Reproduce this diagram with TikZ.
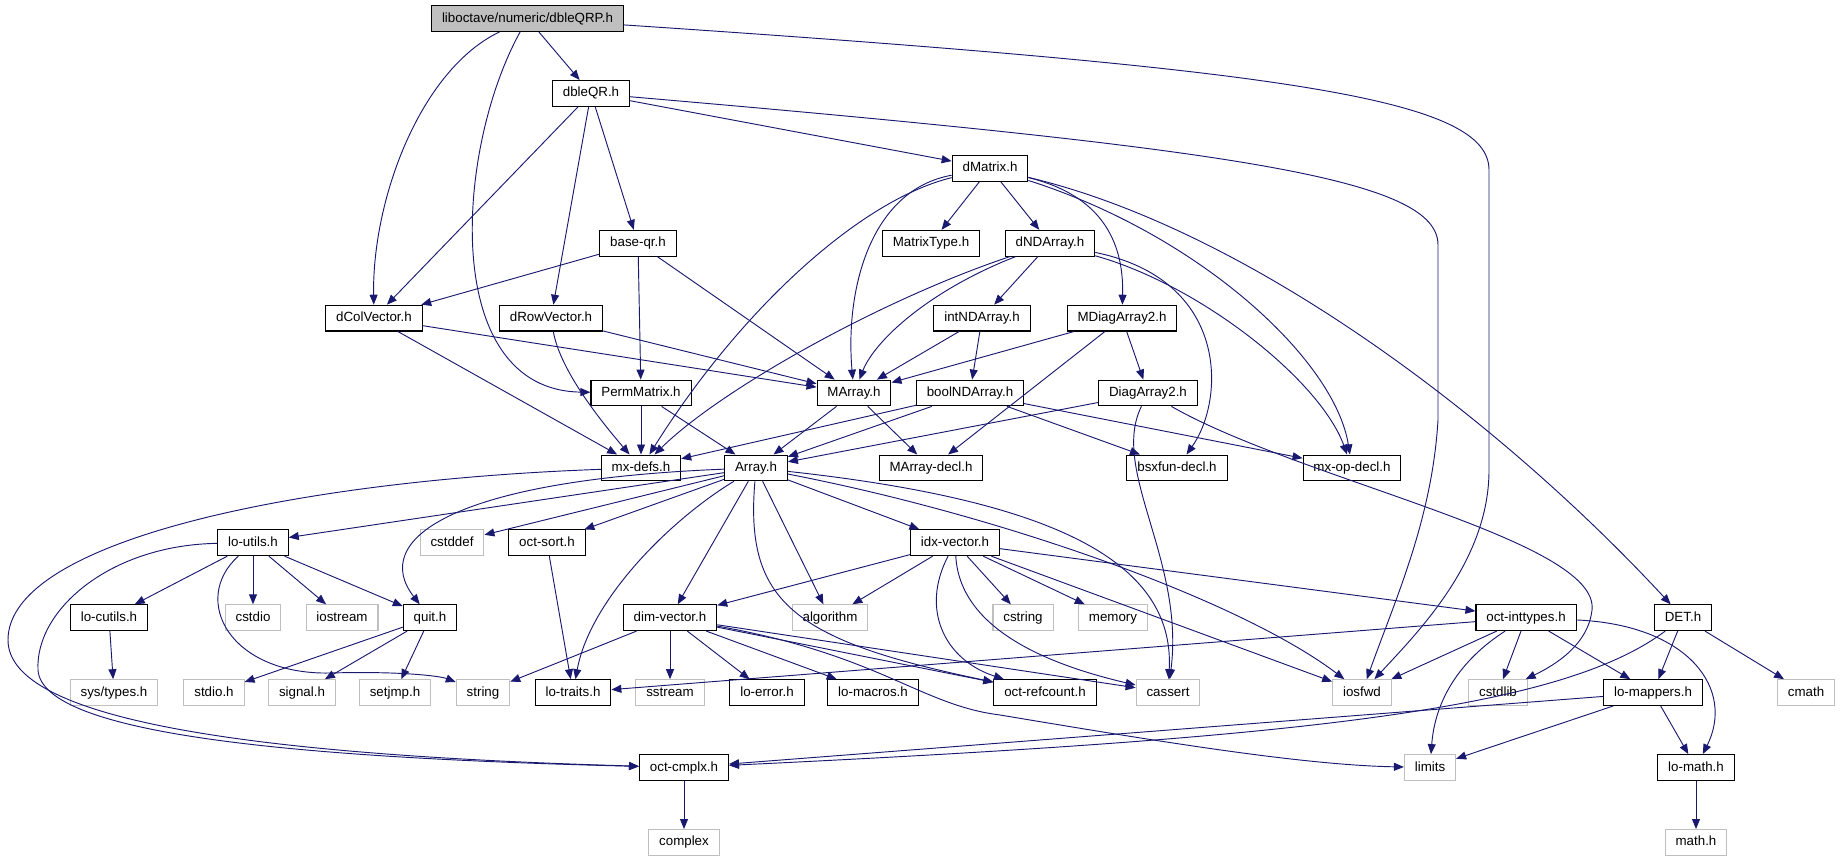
\documentclass[tikz,border=0pt]{standalone}
\usepackage{fontspec}
\setmainfont{Liberation Sans}
\usetikzlibrary{arrows.meta}
\definecolor{depblue}{HTML}{191970}
\definecolor{boxgray}{HTML}{BFBFBF}

\begin{document}
\begin{tikzpicture}[x=0.75pt, y=-0.75pt, font=\fontsize{10}{12}\selectfont,
	main/.style = {draw=black, line width=0.8pt, rectangle, minimum height=19.3pt, inner xsep=7.8pt, inner ysep=0pt, text height=7.3pt, text depth=2pt},
	ext/.style = {main, draw=boxgray},
	rootbox/.style = {main, fill=boxgray},
	dep/.style = {draw=depblue, line width=0.7pt, -{Triangle[length=7.5pt, width=6pt]}}]
	\useasboundingbox (0,0) rectangle (1841,859);
	\node[rootbox] (T) at (527.5,18.5) {liboctave/numeric/dbleQRP.h};
	\node[main] (QR) at (591,93.4) {dbleQR.h};
	\node[main] (dM) at (990,168.3) {dMatrix.h};
	\node[main] (bqr) at (638,243.2) {base-qr.h};
	\node[main] (MT) at (931,243.2) {MatrixType.h};
	\node[main] (dND) at (1050,243.2) {dNDArray.h};
	\node[main] (dCV) at (374,318.1) {dColVector.h};
	\node[main] (dRV) at (551,318.1) {dRowVector.h};
	\node[main] (iND) at (982,318.1) {intNDArray.h};
	\node[main] (MDA) at (1122,318.1) {MDiagArray2.h};
	\node[main] (PM) at (641,393) {PermMatrix.h};
	\node[main] (MA) at (854,393) {MArray.h};
	\node[main] (bND) at (970,393) {boolNDArray.h};
	\node[main] (DA) at (1148,393) {DiagArray2.h};
	\node[main] (mxd) at (641,467.9) {mx-defs.h};
	\node[main] (Arr) at (756,467.9) {Array.h};
	\node[main] (MAd) at (931,467.9) {MArray-decl.h};
	\node[main] (bsx) at (1177,467.9) {bsxfun-decl.h};
	\node[main] (mxo) at (1352,467.9) {mx-op-decl.h};
	\node[main] (lu) at (253,542.8) {lo-utils.h};
	\node[ext] (cstddef) at (452,542.8) {cstddef};
	\node[main] (osort) at (547,542.8) {oct-sort.h};
	\node[main] (idx) at (955,542.8) {idx-vector.h};
	\node[main] (lcu) at (109,617.7) {lo-cutils.h};
	\node[ext] (cstdio) at (253,617.7) {cstdio};
	\node[ext] (iostream) at (342,617.7) {iostream};
	\node[main] (quit) at (430,617.7) {quit.h};
	\node[main] (dimv) at (670,617.7) {dim-vector.h};
	\node[ext] (alg) at (830,617.7) {algorithm};
	\node[ext] (cstring) at (1023,617.7) {cstring};
	\node[ext] (memory) at (1113,617.7) {memory};
	\node[main] (oint) at (1526,617.7) {oct-inttypes.h};
	\node[main] (DET) at (1683,617.7) {DET.h};
	\node[ext] (systypes) at (114,692.6) {sys/types.h};
	\node[ext] (stdio) at (214,692.6) {stdio.h};
	\node[ext] (signal) at (302,692.6) {signal.h};
	\node[ext] (setjmp) at (395,692.6) {setjmp.h};
	\node[ext] (string) at (483,692.6) {string};
	\node[main] (ltr) at (573,692.6) {lo-traits.h};
	\node[ext] (sstream) at (670,692.6) {sstream};
	\node[main] (lerr) at (767,692.6) {lo-error.h};
	\node[main] (lmac) at (873,692.6) {lo-macros.h};
	\node[main] (oref) at (1045,692.6) {oct-refcount.h};
	\node[ext] (cassert) at (1168,692.6) {cassert};
	\node[ext] (iosfwd) at (1362,692.6) {iosfwd};
	\node[ext] (cstdlib) at (1498,692.6) {cstdlib};
	\node[main] (lmap) at (1653,692.6) {lo-mappers.h};
	\node[ext] (cmath) at (1806,692.6) {cmath};
	\node[main] (ocx) at (684,767.5) {oct-cmplx.h};
	\node[ext] (limits) at (1430,767.5) {limits};
	\node[main] (lmath) at (1696,767.5) {lo-math.h};
	\node[ext] (complex) at (684,842.4) {complex};
	\node[ext] (mathh) at (1696,842.4) {math.h};
	\draw[dep] (T) -- (QR);
	\draw[dep] (T) .. controls (420,70) and (372,200) .. (dCV);
	\draw[dep] (T) .. controls (455,150) and (440,390) .. (PM);
	\draw[dep] (T) .. controls (1300,70) and (1489,100) .. (1489,170) -- (1489,470) .. controls (1489,560) and (1420,630) .. (iosfwd);
	\draw[dep] (QR) -- (dM);
	\draw[dep] (QR) -- (bqr);
	\draw[dep] (QR) -- (dRV);
	\draw[dep] (QR) -- (dCV);
	\draw[dep] (QR) .. controls (1250,150) and (1438,180) .. (1438,245) -- (1438,420) .. controls (1432,520) and (1395,600) .. (iosfwd);
	\draw[dep] (dM) -- (MT);
	\draw[dep] (dM) -- (dND);
	\draw[dep] (dM) .. controls (870,190) and (845,290) .. (MA);
	\draw[dep] (dM) .. controls (860,200) and (740,310) .. (mxd);
	\draw[dep] (dM) .. controls (1100,195) and (1124,240) .. (MDA);
	\draw[dep] (dM) .. controls (1200,235) and (1335,360) .. (mxo);
	\draw[dep] (dM) .. controls (1250,230) and (1500,420) .. (DET);
	\draw[dep] (bqr) -- (dCV);
	\draw[dep] (bqr) -- (PM);
	\draw[dep] (bqr) -- (MA);
	\draw[dep] (dND) -- (iND);
	\draw[dep] (dND) .. controls (930,290) and (875,340) .. (MA);
	\draw[dep] (dND) .. controls (880,300) and (720,390) .. (mxd);
	\draw[dep] (dND) .. controls (1230,280) and (1225,400) .. (bsx);
	\draw[dep] (dND) .. controls (1200,285) and (1320,380) .. (mxo);
	\draw[dep] (dCV) -- (MA);
	\draw[dep] (dCV) -- (mxd);
	\draw[dep] (dRV) -- (MA);
	\draw[dep] (dRV) .. controls (560,370) and (600,420) .. (mxd);
	\draw[dep] (iND) -- (MA);
	\draw[dep] (iND) -- (bND);
	\draw[dep] (MDA) -- (MA);
	\draw[dep] (MDA) -- (DA);
	\draw[dep] (MDA) -- (MAd);
	\draw[dep] (PM) -- (mxd);
	\draw[dep] (PM) -- (Arr);
	\draw[dep] (MA) -- (Arr);
	\draw[dep] (MA) -- (MAd);
	\draw[dep] (bND) -- (mxd);
	\draw[dep] (bND) -- (Arr);
	\draw[dep] (bND) -- (bsx);
	\draw[dep] (bND) -- (mxo);
	\draw[dep] (DA) -- (Arr);
	\draw[dep] (DA) .. controls (1110,470) and (1185,560) .. (cassert);
	\draw[dep] (DA) .. controls (1300,480) and (1600,540) .. (1592,610) .. controls (1588,645) and (1555,665) .. (cstdlib);
	\draw[dep] (mxd) .. controls (300,480) and (8,540) .. (8,640) .. controls (8,720) and (250,755) .. (ocx);
	\draw[dep] (Arr) -- (lu);
	\draw[dep] (Arr) -- (cstddef);
	\draw[dep] (Arr) -- (osort);
	\draw[dep] (Arr) -- (dimv);
	\draw[dep] (Arr) -- (alg);
	\draw[dep] (Arr) -- (idx);
	\draw[dep] (Arr) .. controls (450,480) and (370,540) .. (quit);
	\draw[dep] (Arr) .. controls (670,520) and (590,600) .. (ltr);
	\draw[dep] (Arr) .. controls (745,600) and (790,640) .. (oref);
	\draw[dep] (Arr) .. controls (1050,500) and (1175,560) .. (cassert);
	\draw[dep] (Arr) .. controls (1000,515) and (1240,600) .. (iosfwd);
	\draw[dep] (lu) -- (lcu);
	\draw[dep] (lu) -- (cstdio);
	\draw[dep] (lu) -- (iostream);
	\draw[dep] (lu) -- (quit);
	\draw[dep] (lu) .. controls (190,600) and (230,675) .. (330,673) .. controls (400,671) and (440,676) .. (string);
	\draw[dep] (lu) .. controls (110,545) and (35,610) .. (38,670) .. controls (42,735) and (300,758) .. (ocx);
	\draw[dep] (osort) -- (ltr);
	\draw[dep] (idx) -- (dimv);
	\draw[dep] (idx) -- (alg);
	\draw[dep] (idx) -- (cstring);
	\draw[dep] (idx) -- (memory);
	\draw[dep] (idx) -- (oint);
	\draw[dep] (idx) -- (iosfwd);
	\draw[dep] (idx) .. controls (920,610) and (945,660) .. (oref);
	\draw[dep] (idx) .. controls (960,630) and (1050,665) .. (cassert);
	\draw[dep] (lcu) -- (systypes);
	\draw[dep] (quit) -- (stdio);
	\draw[dep] (quit) -- (signal);
	\draw[dep] (quit) -- (setjmp);
	\draw[dep] (dimv) -- (string);
	\draw[dep] (dimv) -- (sstream);
	\draw[dep] (dimv) -- (lerr);
	\draw[dep] (dimv) -- (lmac);
	\draw[dep] (dimv) -- (oref);
	\draw[dep] (dimv) -- (cassert);
	\draw[dep] (dimv) .. controls (880,655) and (920,705) .. (1000,715) .. controls (1150,740) and (1300,765) .. (limits);
	\draw[dep] (oint) -- (ltr);
	\draw[dep] (oint) -- (iosfwd);
	\draw[dep] (oint) -- (cstdlib);
	\draw[dep] (oint) -- (lmap);
	\draw[dep] (oint) .. controls (1460,660) and (1435,700) .. (limits);
	\draw[dep] (oint) .. controls (1690,625) and (1735,690) .. (lmath);
	\draw[dep] (DET) -- (lmap);
	\draw[dep] (DET) -- (cmath);
	\draw[dep] (DET) .. controls (1560,710) and (1300,738) .. (ocx);
	\draw[dep] (lmap) -- (ocx);
	\draw[dep] (lmap) -- (limits);
	\draw[dep] (lmap) -- (lmath);
	\draw[dep] (lmath) -- (mathh);
	\draw[dep] (ocx) -- (complex);
\end{tikzpicture}
\end{document}
